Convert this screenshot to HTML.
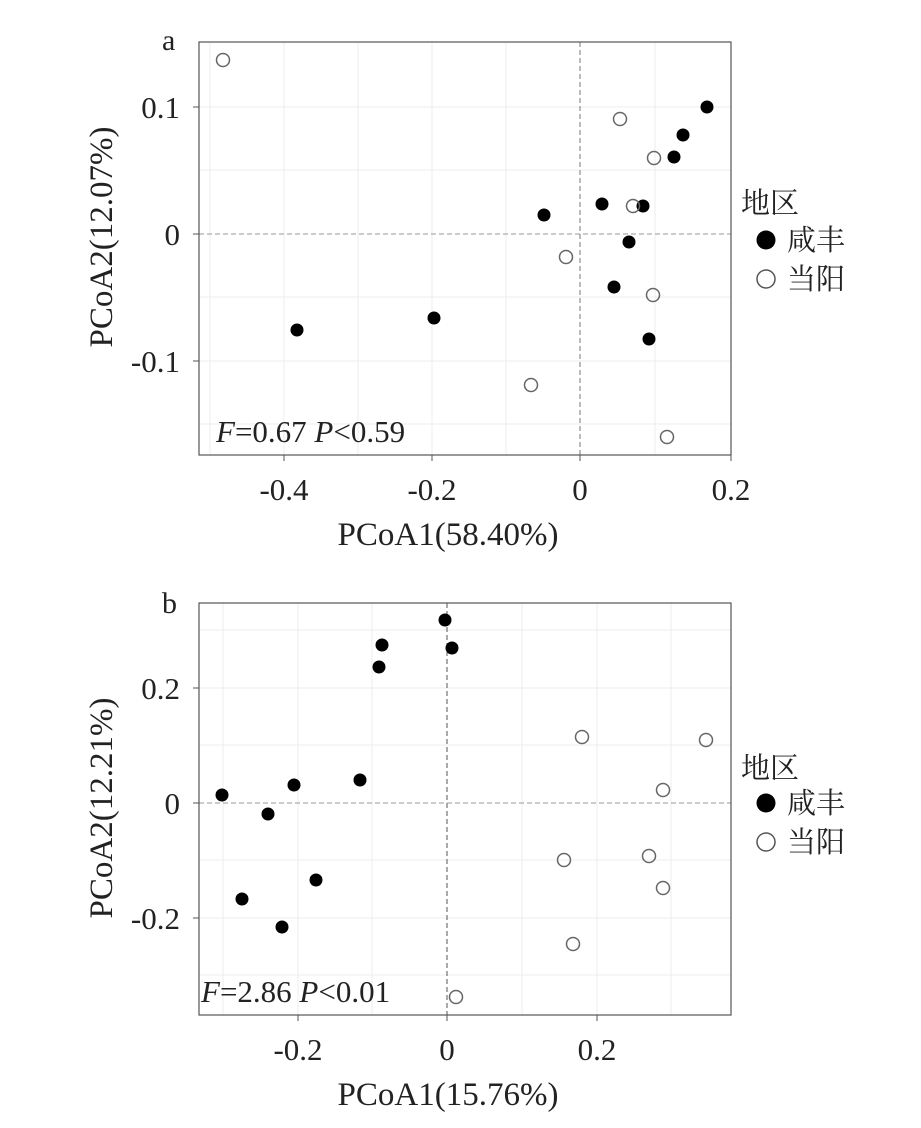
<!DOCTYPE html>
<html><head><meta charset="utf-8"><style>
html,body{margin:0;padding:0;background:#fff;}
svg{display:block;font-family:"Liberation Serif","Noto Serif CJK SC",serif;}
</style></head><body>
<svg width="921" height="1128" viewBox="0 0 921 1128" xmlns="http://www.w3.org/2000/svg">
<!-- Panel a -->
<g stroke="#ececec" stroke-width="1">
<line x1="284" y1="42" x2="284" y2="455"/><line x1="432" y1="42" x2="432" y2="455"/><line x1="358" y1="42" x2="358" y2="455"/><line x1="506" y1="42" x2="506" y2="455"/><line x1="655" y1="42" x2="655" y2="455"/><line x1="210" y1="42" x2="210" y2="455"/>
<line x1="199" y1="107" x2="731" y2="107"/><line x1="199" y1="361" x2="731" y2="361"/><line x1="199" y1="170" x2="731" y2="170"/><line x1="199" y1="297" x2="731" y2="297"/><line x1="199" y1="424" x2="731" y2="424"/>
</g>
<line x1="580" y1="42" x2="580" y2="455" stroke="#777" stroke-dasharray="5,3"/>
<line x1="199" y1="234" x2="731" y2="234" stroke="#999" stroke-dasharray="5,3"/>
<rect x="199" y="42" width="532" height="413" fill="none" stroke="#555" stroke-width="1.2"/>
<g stroke="#555"><line x1="284" y1="455" x2="284" y2="461"/><line x1="432" y1="455" x2="432" y2="461"/><line x1="580" y1="455" x2="580" y2="461"/><line x1="731" y1="455" x2="731" y2="461"/>
<line x1="193" y1="107" x2="199" y2="107"/><line x1="193" y1="234" x2="199" y2="234"/><line x1="193" y1="361" x2="199" y2="361"/></g>
<g font-size="31" fill="#222" text-anchor="middle">
<text x="284" y="500">-0.4</text><text x="432" y="500">-0.2</text><text x="580" y="500">0</text><text x="731" y="500">0.2</text>
<text x="448" y="545" font-size="33">PCoA1(58.40%)</text>
</g>
<g font-size="31" fill="#222" text-anchor="end"><text x="180" y="118">0.1</text><text x="180" y="245">0</text><text x="180" y="372">-0.1</text></g>
<text x="0" y="0" font-size="33" fill="#222" text-anchor="middle" transform="translate(112,237) rotate(-90)">PCoA2(12.07%)</text>
<text x="162" y="50" font-size="30" fill="#222">a</text>
<text x="216" y="442" font-size="31" fill="#222"><tspan font-style="italic">F</tspan>=0.67 <tspan font-style="italic">P</tspan>&lt;0.59</text>
<g fill="#000">
<circle cx="707" cy="107" r="6.5"/><circle cx="683" cy="135" r="6.5"/><circle cx="674" cy="157" r="6.5"/><circle cx="602" cy="204" r="6.5"/><circle cx="643" cy="206" r="6.5"/><circle cx="544" cy="215" r="6.5"/><circle cx="629" cy="242" r="6.5"/><circle cx="614" cy="287" r="6.5"/><circle cx="649" cy="339" r="6.5"/><circle cx="434" cy="318" r="6.5"/><circle cx="297" cy="330" r="6.5"/>
</g>
<g fill="none" stroke="#666" stroke-width="1.5">
<circle cx="223" cy="60" r="6.5"/><circle cx="620" cy="119" r="6.5"/><circle cx="654" cy="158" r="6.5"/><circle cx="633" cy="206" r="6.5"/><circle cx="566" cy="257" r="6.5"/><circle cx="653" cy="295" r="6.5"/><circle cx="531" cy="385" r="6.5"/><circle cx="667" cy="437" r="6.5"/>
</g>
<text x="741" y="213" font-size="29" fill="#222">地区</text>
<circle cx="766" cy="240" r="9.5" fill="#000"/><text x="787" y="250" font-size="29" fill="#222">咸丰</text>
<circle cx="766" cy="279" r="9" fill="none" stroke="#555" stroke-width="1.5"/><text x="787" y="289" font-size="29" fill="#222">当阳</text>

<!-- Panel b -->
<g stroke="#ececec" stroke-width="1">
<line x1="298" y1="603" x2="298" y2="1015"/><line x1="597" y1="603" x2="597" y2="1015"/><line x1="223" y1="603" x2="223" y2="1015"/><line x1="372" y1="603" x2="372" y2="1015"/><line x1="522" y1="603" x2="522" y2="1015"/><line x1="671" y1="603" x2="671" y2="1015"/>
<line x1="199" y1="688" x2="731" y2="688"/><line x1="199" y1="918" x2="731" y2="918"/><line x1="199" y1="630" x2="731" y2="630"/><line x1="199" y1="745" x2="731" y2="745"/><line x1="199" y1="860" x2="731" y2="860"/><line x1="199" y1="975" x2="731" y2="975"/>
</g>
<line x1="447" y1="603" x2="447" y2="1015" stroke="#555" stroke-dasharray="5,3"/>
<line x1="199" y1="803" x2="731" y2="803" stroke="#999" stroke-dasharray="5,3"/>
<rect x="199" y="603" width="532" height="412" fill="none" stroke="#555" stroke-width="1.2"/>
<g stroke="#555"><line x1="298" y1="1015" x2="298" y2="1021"/><line x1="447" y1="1015" x2="447" y2="1021"/><line x1="597" y1="1015" x2="597" y2="1021"/>
<line x1="193" y1="688" x2="199" y2="688"/><line x1="193" y1="803" x2="199" y2="803"/><line x1="193" y1="918" x2="199" y2="918"/></g>
<g font-size="31" fill="#222" text-anchor="middle">
<text x="298" y="1060">-0.2</text><text x="447" y="1060">0</text><text x="597" y="1060">0.2</text>
<text x="448" y="1105" font-size="33">PCoA1(15.76%)</text>
</g>
<g font-size="31" fill="#222" text-anchor="end"><text x="180" y="699">0.2</text><text x="180" y="814">0</text><text x="180" y="929">-0.2</text></g>
<text x="0" y="0" font-size="33" fill="#222" text-anchor="middle" transform="translate(112,808) rotate(-90)">PCoA2(12.21%)</text>
<text x="162" y="613" font-size="30" fill="#222">b</text>
<text x="201" y="1002" font-size="31" fill="#222"><tspan font-style="italic">F</tspan>=2.86 <tspan font-style="italic">P</tspan>&lt;0.01</text>
<g fill="#000">
<circle cx="445" cy="620" r="6.5"/><circle cx="452" cy="648" r="6.5"/><circle cx="382" cy="645" r="6.5"/><circle cx="379" cy="667" r="6.5"/><circle cx="360" cy="780" r="6.5"/><circle cx="222" cy="795" r="6.5"/><circle cx="268" cy="814" r="6.5"/><circle cx="294" cy="785" r="6.5"/><circle cx="316" cy="880" r="6.5"/><circle cx="242" cy="899" r="6.5"/><circle cx="282" cy="927" r="6.5"/>
</g>
<g fill="none" stroke="#666" stroke-width="1.5">
<circle cx="582" cy="737" r="6.5"/><circle cx="706" cy="740" r="6.5"/><circle cx="663" cy="790" r="6.5"/><circle cx="564" cy="860" r="6.5"/><circle cx="649" cy="856" r="6.5"/><circle cx="663" cy="888" r="6.5"/><circle cx="573" cy="944" r="6.5"/><circle cx="456" cy="997" r="6.5"/>
</g>
<text x="741" y="778" font-size="29" fill="#222">地区</text>
<circle cx="766" cy="803" r="9.5" fill="#000"/><text x="787" y="813" font-size="29" fill="#222">咸丰</text>
<circle cx="766" cy="842" r="9" fill="none" stroke="#555" stroke-width="1.5"/><text x="787" y="852" font-size="29" fill="#222">当阳</text>
</svg>
</body></html>
